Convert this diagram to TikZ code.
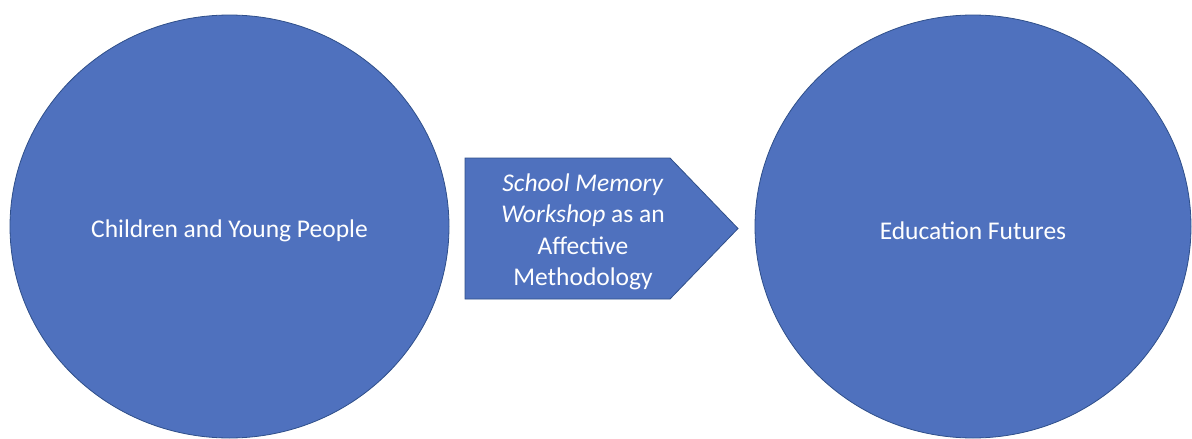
\documentclass[tikz,border=0pt]{standalone}
\usepackage{fontspec}
\setmainfont{Carlito}
\usetikzlibrary{shapes.geometric}
\definecolor{fillblue}{HTML}{4F71BE}
\definecolor{edgeblue}{HTML}{2F4F8A}
\tikzset{
  blob/.style={ellipse, draw=edgeblue, fill=fillblue, line width=0.8pt, inner sep=0pt},
  whitetext/.style={text=white, align=center, font=\fontsize{25.5}{31.5}\selectfont}
}

\begin{document}
\begin{tikzpicture}[x=1pt,y=-1pt]
  \useasboundingbox (0,0) rectangle (1192,439);
  % the two circles
  \node[blob, minimum width=439pt, minimum height=423pt] (young) at (229.5,226.5) {};
  \node[blob, minimum width=436pt, minimum height=423pt] (futures) at (973,226.5) {};
  \node[whitetext] (younglabel) at ([yshift=-4pt]young.center) {Children and Young People};
  \node[whitetext] (futureslabel) at ([yshift=-4pt]futures.center) {Education Futures};
  % pentagon arrow in between
  \draw[draw=edgeblue, fill=fillblue, line width=0.8pt]
    (465,158) -- (670,158) -- (738,228.5) -- (670,299) -- (465,299) -- cycle;
  \node[whitetext] (workshop) at (583,232)
    {\textit{School Memory}\\\textit{Workshop} as an\\Affective\\Methodology};
\end{tikzpicture}
\end{document}
